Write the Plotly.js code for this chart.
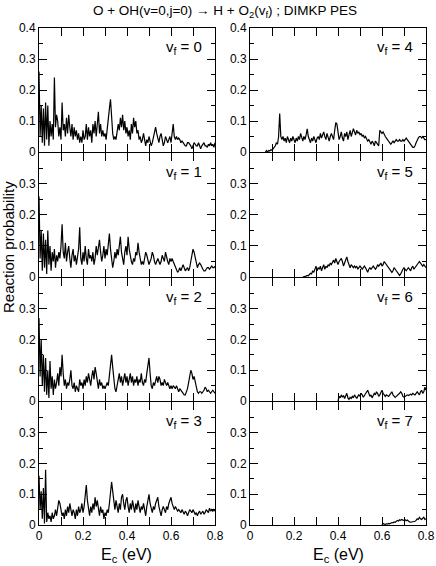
<!DOCTYPE html>
<html>
<head>
<meta charset="utf-8">
<script src="https://cdn.plot.ly/plotly-3.0.1.min.js"></script>
<style>
html,body{margin:0;padding:0;background:#fff;}
#chart{width:436px;height:566px;}
</style>
</head>
<body>
<div id="chart"></div>
<script>
// Collision energy grid (eV)
const energy = [
0,0.005,0.01,0.015,0.02,0.025,0.03,0.035,0.04,0.045,
0.05,0.055,0.06,0.065,0.07,0.075,0.08,0.085,0.09,0.095,
0.1,0.105,0.11,0.115,0.12,0.125,0.13,0.135,0.14,0.145,
0.15,0.155,0.16,0.165,0.17,0.175,0.18,0.185,0.19,0.195,
0.2,0.205,0.21,0.215,0.22,0.225,0.23,0.235,0.24,0.245,
0.25,0.255,0.26,0.265,0.27,0.275,0.28,0.285,0.29,0.295,
0.3,0.305,0.31,0.315,0.32,0.325,0.33,0.335,0.34,0.345,
0.35,0.355,0.36,0.365,0.37,0.375,0.38,0.385,0.39,0.395,
0.4,0.405,0.41,0.415,0.42,0.425,0.43,0.435,0.44,0.445,
0.45,0.455,0.46,0.465,0.47,0.475,0.48,0.485,0.49,0.495,
0.5,0.505,0.51,0.515,0.52,0.525,0.53,0.535,0.54,0.545,
0.55,0.555,0.56,0.565,0.57,0.575,0.58,0.585,0.59,0.595,
0.6,0.605,0.61,0.615,0.62,0.625,0.63,0.635,0.64,0.645,
0.65,0.655,0.66,0.665,0.67,0.675,0.68,0.685,0.69,0.695,
0.7,0.705,0.71,0.715,0.72,0.725,0.73,0.735,0.74,0.745,
0.75,0.755,0.76,0.765,0.77,0.775,0.78,0.785,0.79,0.795,
0.8];

// Reaction probability for each final vibrational state
const vf0 = [
0.26,0.05,0.15,0.03,0.14,0.02,0.16,0.04,0.15,0.02,
0.10,0.05,0.09,0.04,0.24,0.08,0.12,0.10,0.05,0.08,
0.04,0.16,0.07,0.09,0.05,0.11,0.06,0.12,0.08,0.05,
0.09,0.04,0.08,0.05,0.07,0.04,0.06,0.03,0.05,0.03,
0.07,0.04,0.05,0.09,0.04,0.08,0.05,0.07,0.03,0.09,
0.06,0.10,0.05,0.08,0.13,0.06,0.09,0.05,0.07,0.05,
0.06,0.04,0.08,0.10,0.14,0.17,0.10,0.06,0.04,0.05,
0.04,0.06,0.09,0.07,0.11,0.08,0.12,0.07,0.10,0.06,
0.08,0.05,0.07,0.04,0.09,0.06,0.11,0.08,0.10,0.06,
0.07,0.04,0.05,0.03,0.04,0.06,0.03,0.02,0.04,0.03,
0.05,0.03,0.02,0.03,0.05,0.07,0.08,0.06,0.04,0.03,
0.05,0.06,0.04,0.02,0.03,0.05,0.04,0.03,0.04,0.05,
0.03,0.06,0.09,0.05,0.04,0.05,0.04,0.045,0.04,0.03,
0.035,0.03,0.025,0.02,0.02,0.03,0.03,0.025,0.02,0.01,
0.02,0.03,0.025,0.02,0.02,0.03,0.02,0.01,0.02,0.025,
0.03,0.02,0.02,0.015,0.025,0.02,0.03,0.02,0.025,0.015,
0.03];
const vf1 = [
0.26,0.06,0.15,0.02,0.14,0.03,0.12,0.01,0.15,0.04,
0.10,0.02,0.08,0.05,0.09,0.03,0.07,0.05,0.08,0.06,
0.10,0.17,0.08,0.06,0.11,0.05,0.08,0.10,0.06,0.03,
0.07,0.09,0.05,0.07,0.04,0.06,0.09,0.16,0.06,0.04,
0.08,0.05,0.10,0.06,0.04,0.09,0.06,0.07,0.05,0.08,
0.04,0.06,0.10,0.07,0.09,0.12,0.08,0.05,0.07,0.10,
0.06,0.09,0.07,0.11,0.14,0.09,0.06,0.03,0.05,0.08,
0.06,0.09,0.07,0.10,0.13,0.08,0.06,0.04,0.08,0.10,
0.07,0.13,0.09,0.06,0.05,0.04,0.06,0.05,0.08,0.07,
0.11,0.08,0.06,0.04,0.05,0.04,0.06,0.08,0.07,0.05,
0.04,0.05,0.06,0.08,0.07,0.05,0.04,0.05,0.06,0.05,
0.04,0.05,0.07,0.06,0.05,0.08,0.06,0.05,0.04,0.06,
0.05,0.06,0.05,0.04,0.03,0.02,0.015,0.02,0.03,0.02,
0.03,0.04,0.03,0.02,0.025,0.03,0.02,0.03,0.05,0.07,
0.09,0.08,0.06,0.04,0.03,0.04,0.045,0.04,0.03,0.025,
0.02,0.02,0.025,0.03,0.03,0.025,0.03,0.035,0.03,0.03,
0.035];
const vf2 = [
0.27,0.08,0.20,0.05,0.15,0.03,0.14,0.02,0.10,0.01,
0.13,0.04,0.08,0.02,0.07,0.04,0.06,0.09,0.05,0.11,
0.08,0.15,0.09,0.05,0.07,0.04,0.06,0.05,0.07,0.10,
0.05,0.04,0.06,0.03,0.05,0.04,0.03,0.07,0.05,0.06,
0.04,0.07,0.05,0.08,0.06,0.09,0.07,0.05,0.08,0.10,
0.07,0.11,0.09,0.06,0.04,0.07,0.05,0.06,0.04,0.05,
0.04,0.05,0.06,0.05,0.08,0.10,0.15,0.11,0.06,0.04,
0.03,0.05,0.07,0.09,0.06,0.08,0.05,0.07,0.09,0.06,
0.08,0.05,0.07,0.09,0.06,0.08,0.05,0.07,0.06,0.08,
0.05,0.07,0.06,0.09,0.06,0.05,0.07,0.06,0.09,0.12,
0.14,0.09,0.05,0.04,0.06,0.05,0.07,0.08,0.06,0.08,
0.07,0.05,0.06,0.05,0.07,0.06,0.05,0.06,0.05,0.04,
0.05,0.04,0.05,0.045,0.04,0.05,0.04,0.03,0.04,0.035,
0.03,0.025,0.02,0.02,0.03,0.04,0.06,0.08,0.10,0.09,
0.07,0.08,0.06,0.04,0.03,0.025,0.03,0.03,0.025,0.03,
0.035,0.045,0.04,0.03,0.035,0.03,0.025,0.03,0.035,0.03,
0.025];
const vf3 = [
0.16,0.05,0.11,0.02,0.12,0.005,0.18,0.01,0.04,0.02,
0.03,0.01,0.04,0.02,0.03,0.05,0.03,0.06,0.08,0.07,
0.05,0.03,0.04,0.02,0.05,0.03,0.06,0.04,0.07,0.05,
0.03,0.05,0.04,0.02,0.05,0.03,0.06,0.04,0.05,0.07,
0.04,0.06,0.09,0.13,0.08,0.05,0.03,0.06,0.04,0.07,
0.05,0.09,0.06,0.08,0.05,0.03,0.06,0.04,0.05,0.02,
0.04,0.03,0.05,0.04,0.07,0.10,0.14,0.11,0.07,0.05,
0.08,0.06,0.04,0.07,0.05,0.09,0.10,0.07,0.05,0.08,
0.09,0.06,0.04,0.07,0.05,0.08,0.06,0.04,0.07,0.05,
0.08,0.06,0.04,0.06,0.05,0.07,0.04,0.03,0.06,0.08,
0.10,0.07,0.05,0.04,0.06,0.05,0.07,0.08,0.09,0.06,
0.04,0.03,0.05,0.06,0.05,0.04,0.06,0.05,0.07,0.08,
0.09,0.07,0.06,0.05,0.06,0.05,0.045,0.05,0.045,0.04,
0.05,0.04,0.035,0.045,0.04,0.03,0.04,0.05,0.045,0.04,
0.05,0.04,0.035,0.04,0.03,0.04,0.045,0.035,0.04,0.045,
0.035,0.04,0.05,0.045,0.04,0.055,0.045,0.05,0.045,0.05,
0.045];
// Right column: channels open above a threshold energy
const vf4 = [
0.0,0.005,0.0,0.005,0.003,0.008,
0.005,0.01,0.015,0.02,0.03,0.025,0.05,0.124,0.05,0.04,
0.05,0.035,0.045,0.03,0.05,0.04,0.03,0.045,0.035,0.05,
0.04,0.03,0.045,0.035,0.05,0.04,0.06,0.045,0.035,0.05,
0.04,0.055,0.075,0.05,0.04,0.03,0.045,0.035,0.05,0.04,
0.03,0.045,0.05,0.04,0.06,0.045,0.055,0.065,0.05,0.04,
0.06,0.045,0.035,0.05,0.06,0.05,0.04,0.07,0.095,0.09,
0.06,0.04,0.05,0.065,0.045,0.035,0.06,0.05,0.065,0.04,
0.055,0.07,0.05,0.06,0.075,0.065,0.055,0.07,0.06,0.065,
0.055,0.06,0.05,0.055,0.045,0.05,0.04,0.035,0.04,0.03,
0.025,0.035,0.03,0.02,0.035,0.03,0.025,0.02,0.07,0.065,
0.06,0.065,0.055,0.05,0.045,0.04,0.035,0.03,0.025,0.03,
0.035,0.03,0.035,0.04,0.035,0.035,0.04,0.035,0.035,0.04,
0.035,0.04,0.045,0.04,0.035,0.03,0.025,0.02,0.015,0.015,
0.02,0.03,0.04,0.045,0.05,0.05,0.045,0.05,0.045,0.04,
0.04];
const vf5 = [
0.0,0.0,
0.002,0.003,0.005,0.004,0.008,0.012,0.01,0.02,0.015,0.03,
0.035,0.02,0.03,0.025,0.035,0.02,0.03,0.04,0.025,0.035,
0.03,0.04,0.035,0.045,0.04,0.05,0.055,0.045,0.06,0.05,
0.04,0.05,0.055,0.06,0.05,0.035,0.045,0.06,0.065,0.05,
0.04,0.03,0.04,0.035,0.03,0.035,0.03,0.035,0.025,0.03,
0.035,0.03,0.025,0.03,0.035,0.03,0.02,0.015,0.025,0.03,
0.025,0.03,0.035,0.03,0.025,0.03,0.04,0.035,0.04,0.045,
0.035,0.04,0.05,0.045,0.04,0.035,0.03,0.025,0.02,0.015,
0.02,0.03,0.025,0.02,0.015,0.01,0.005,0.01,0.02,0.025,
0.03,0.025,0.02,0.025,0.03,0.025,0.02,0.03,0.035,0.025,
0.03,0.035,0.04,0.045,0.05,0.045,0.04,0.035,0.04,0.035,
0.03];
const vf6 = [
0.0,0.015,0.01,0.02,0.012,0.018,0.008,0.015,0.025,0.01,
0.005,0.012,0.008,0.015,0.01,0.02,0.012,0.008,0.015,0.02,
0.015,0.025,0.02,0.012,0.018,0.025,0.03,0.035,0.025,0.015,
0.02,0.01,0.018,0.025,0.02,0.03,0.025,0.015,0.02,0.03,
0.035,0.025,0.02,0.015,0.02,0.018,0.015,0.02,0.025,0.03,
0.02,0.015,0.012,0.015,0.018,0.02,0.025,0.03,0.025,0.015,
0.012,0.015,0.018,0.02,0.018,0.02,0.022,0.02,0.025,0.022,
0.02,0.025,0.03,0.025,0.02,0.03,0.035,0.025,0.03,0.045,
0.035];
const vf7 = [
0.0,0.005,0.003,0.002,0.004,0.003,0.005,0.004,0.006,0.008,
0.007,0.01,0.009,0.012,0.015,0.013,0.017,0.015,0.018,0.016,
0.015,0.017,0.014,0.016,0.012,0.01,0.009,0.01,0.011,0.01,
0.012,0.015,0.02,0.018,0.025,0.02,0.018,0.022,0.025,0.018,
0.02];

const seriesList = [vf0, vf1, vf2, vf3, vf4, vf5, vf6, vf7];
const startEnergy = [0, 0, 0, 0, 0.07, 0.24, 0.40, 0.60];
const vfLabels = ['0','1','2','3','4','5','6','7'];
const yTickVals = [0, 0.1, 0.2, 0.3, 0.4];
const yTickText = ['0','0.1','0.2','0.3','0.4'];
const xTickVals = [0, 0.2, 0.4, 0.6, 0.8];

const FONT = 'Liberation Sans, Arial, Helvetica, sans-serif';
const W = 436, H = 566;
// plot-area pixel boxes; adjacent rows leave 1px so shared frame lines coincide
const colX = [[39, 215], [250, 426]];
const rowY = [[28, 152], [153, 277], [278, 401], [402, 525]];

const data = [];
const layout = {
  width: W, height: H,
  margin: {l: 0, r: 0, t: 0, b: 0},
  paper_bgcolor: '#fff', plot_bgcolor: '#fff',
  showlegend: false,
  font: {family: FONT, color: '#000', size: 12},
  title: {
    text: 'O + OH(v=0,j=0) \u2192 H + O<sub>2</sub>(v<sub>f</sub>) ; DIMKP PES',
    x: 225 / W, xanchor: 'center', y: 1 - 10 / H, yanchor: 'middle',
    font: {family: FONT, size: 13.5, color: '#000'}
  },
  annotations: []
};

seriesList.forEach((vals, p) => {
  const col = p < 4 ? 0 : 1;
  const row = p % 4;
  const n = p + 1;
  const xa = 'x' + (n === 1 ? '' : n);
  const ya = 'y' + (n === 1 ? '' : n);
  const i0 = energy.findIndex(e => Math.abs(e - startEnergy[p]) < 1e-9);
  data.push({
    type: 'scatter', mode: 'lines',
    x: energy.slice(i0, i0 + vals.length), y: vals,
    xaxis: xa, yaxis: ya,
    line: {color: '#000', width: 1.2}, hoverinfo: 'skip'
  });
  const common = {
    ticks: 'inside', tickcolor: '#000', tickwidth: 1,
    showline: true, linecolor: '#000', linewidth: 1, mirror: 'ticks',
    showgrid: false, zeroline: false, fixedrange: true,
    tickfont: {family: FONT, size: 12, color: '#000'}
  };
  layout['xaxis' + (n === 1 ? '' : n)] = Object.assign({}, common, {
    domain: [colX[col][0] / W, colX[col][1] / W],
    anchor: ya, range: [0, 0.8],
    tickmode: 'array', tickvals: xTickVals, ticklen: 8,
    showticklabels: row === 3,
    minor: {tickmode: 'linear', tick0: 0, dtick: 0.1, ticks: 'inside', ticklen: 8, tickcolor: '#000', showgrid: false}
  });
  layout['yaxis' + (n === 1 ? '' : n)] = Object.assign({}, common, {
    domain: [1 - rowY[row][1] / H, 1 - rowY[row][0] / H],
    anchor: xa, range: [0, row === 0 ? 0.4 : 0.3999],
    tickmode: 'array', tickvals: yTickVals, ticktext: yTickText, ticklen: 8,
    minor: {tickmode: 'linear', tick0: 0, dtick: 0.05, ticks: 'inside', ticklen: 4, tickcolor: '#000', showgrid: false}
  });
  layout.annotations.push({
    xref: xa + ' domain', yref: ya + ' domain', x: 1, y: 1,
    xanchor: 'right', yanchor: 'top', xshift: -11, yshift: -8,
    text: 'v<sub>f</sub> = ' + vfLabels[p], showarrow: false,
    font: {family: FONT, size: 15, color: '#000'}
  });
});

// x-axis titles under each column
[127, 338].forEach(cx => {
  layout.annotations.push({
    xref: 'paper', yref: 'paper', x: cx / W, y: 1 - 555 / H,
    xanchor: 'center', yanchor: 'middle', showarrow: false,
    text: 'E<sub>c</sub> (eV)', font: {family: FONT, size: 16, color: '#000'}
  });
});
// shared y-axis title
layout.annotations.push({
  xref: 'paper', yref: 'paper', x: 8 / W, y: 1 - 247 / H,
  xanchor: 'center', yanchor: 'middle', textangle: -90, showarrow: false,
  text: 'Reaction probability', font: {family: FONT, size: 15, color: '#000'}
});

Plotly.newPlot('chart', data, layout, {displayModeBar: false, staticPlot: true});
</script>
</body>
</html>
